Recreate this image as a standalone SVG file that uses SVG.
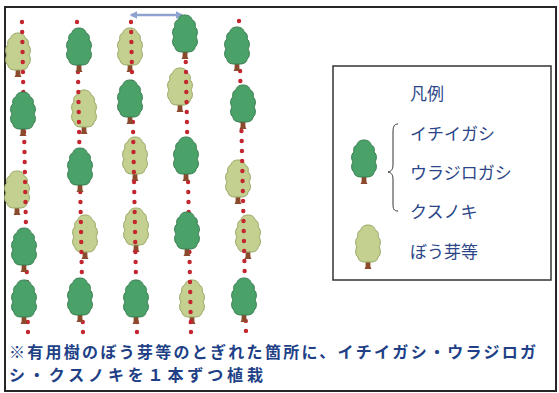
<svg xmlns="http://www.w3.org/2000/svg" width="559" height="393" viewBox="0 0 559 393">
  <style>
    .frame { fill: #ffffff; stroke: #262626; stroke-width: 2; }
    .legend-box { fill: #ffffff; stroke: #333333; stroke-width: 1.5; }
    .row { fill: none; stroke: #c3262f; stroke-width: 4.4; stroke-linecap: round; stroke-dasharray: 0 10; }
    .crown-dark { fill: #4aa268; stroke: #3a7e52; stroke-width: 1; }
    .crown-light { fill: #c4d08f; stroke: #98a866; stroke-width: 1; }
    .trunk { fill: #8c4a2d; }
    .lg { font-family: "Noto Sans CJK JP", "Noto Sans", sans-serif; font-size: 17px; fill: #2b4688; }
    .note { font-family: "Noto Sans CJK JP", "Noto Sans", sans-serif; font-size: 16px; font-weight: bold; fill: #213f86; }
  </style>
  <defs>
    <!-- crown outline and trunk, origin at crown centre -->
    <path id="crown" d="M0,-22 C5,-22 7,-19 7,-17 C10,-16 11,-13 10,-10 C13,-8 13,-3 11,0 C13,3 13,8 10,10 C10,13 7,15 3,15 L-3,15 C-7,15 -10,13 -10,10 C-13,8 -13,3 -11,0 C-13,-3 -13,-8 -10,-10 C-11,-13 -10,-16 -7,-17 C-7,-19 -5,-22 0,-22 Z"/>
    <path id="trunk" d="M-2,8 L2,8 L2.5,20 L3.5,22 L-3.5,22 L-2.5,20 Z"/>
    <g id="tree-dark">
      <use href="#trunk" class="trunk"/>
      <use href="#crown" class="crown-dark"/>
    </g>
    <g id="tree-light">
      <use href="#trunk" class="trunk"/>
      <use href="#crown" class="crown-light"/>
    </g>
    <marker id="head" viewBox="0 0 10 10" refX="8" refY="5" markerWidth="3" markerHeight="3" orient="auto-start-reverse">
      <path d="M0,0 L10,5 L0,10 Z" fill="#8fa3cf"/>
    </marker>
  </defs>

  <rect class="frame" x="5" y="7" width="551" height="384"/>

  <!-- sprout-stock trees (under the planting rows) -->
  <g id="sprouts">
    <use href="#tree-light" transform="translate(18,55)"/>
    <use href="#tree-light" transform="translate(17,193)"/>
    <use href="#tree-light" transform="translate(84,112)"/>
    <use href="#tree-light" transform="translate(85,237)"/>
    <use href="#tree-light" transform="translate(130,50)"/>
    <use href="#tree-light" transform="translate(135,159)"/>
    <use href="#tree-light" transform="translate(136,230)"/>
    <use href="#tree-light" transform="translate(180,90)"/>
    <use href="#tree-light" transform="translate(192,302)"/>
    <use href="#tree-light" transform="translate(238,182)"/>
    <use href="#tree-light" transform="translate(248,237)"/>
  </g>

  <!-- planting rows -->
  <g id="connectors">
    <line class="row" x1="22" y1="22" x2="28" y2="334"/>
    <line class="row" x1="77" y1="22" x2="83" y2="334"/>
    <line class="row" x1="131" y1="22" x2="137" y2="333"/>
    <line class="row" x1="185" y1="22" x2="191" y2="333"/>
    <line class="row" x1="239" y1="21" x2="246" y2="332"/>
    <line x1="131" y1="15" x2="182" y2="15" stroke="#8fa3cf" stroke-width="2.5" marker-start="url(#head)" marker-end="url(#head)"/>
  </g>

  <!-- planted useful trees -->
  <g id="planted">
    <use href="#tree-dark" transform="translate(23,114)"/>
    <use href="#tree-dark" transform="translate(24,250)"/>
    <use href="#tree-dark" transform="translate(24,302)"/>
    <use href="#tree-dark" transform="translate(79,50)"/>
    <use href="#tree-dark" transform="translate(80,170)"/>
    <use href="#tree-dark" transform="translate(80,300)"/>
    <use href="#tree-dark" transform="translate(130,102)"/>
    <use href="#tree-dark" transform="translate(136,302)"/>
    <use href="#tree-dark" transform="translate(185,37)"/>
    <use href="#tree-dark" transform="translate(186,159)"/>
    <use href="#tree-dark" transform="translate(187,234)"/>
    <use href="#tree-dark" transform="translate(237,49)"/>
    <use href="#tree-dark" transform="translate(243,107)"/>
    <use href="#tree-dark" transform="translate(244,300)"/>
  </g>

  <!-- legend -->
  <g id="legend">
    <rect class="legend-box" x="333" y="66" width="218" height="214"/>
    <text class="lg" x="410" y="100">凡例</text>
    <text class="lg" x="410" y="140">イチイガシ</text>
    <text class="lg" x="410" y="179">ウラジロガシ</text>
    <text class="lg" x="410" y="218">クスノキ</text>
    <text class="lg" x="410" y="258">ぼう芽等</text>
    <path d="M398,124 C394,124 393,127 393,132 L393,164 C393,169 392,171 388,172 C392,173 393,175 393,180 L393,204 C393,209 394,211 398,211" fill="none" stroke="#333333" stroke-width="1"/>
    <use href="#tree-dark" transform="translate(364,162)"/>
    <use href="#tree-light" transform="translate(368,247)"/>
  </g>

  <!-- note -->
  <g id="note">
    <text class="note" x="9" y="358" textLength="527" lengthAdjust="spacing">※有用樹のぼう芽等のとぎれた箇所に、イチイガシ・ウラジロガ</text>
    <text class="note" x="9" y="381" textLength="254" lengthAdjust="spacing">シ・クスノキを１本ずつ植栽</text>
  </g>
</svg>
